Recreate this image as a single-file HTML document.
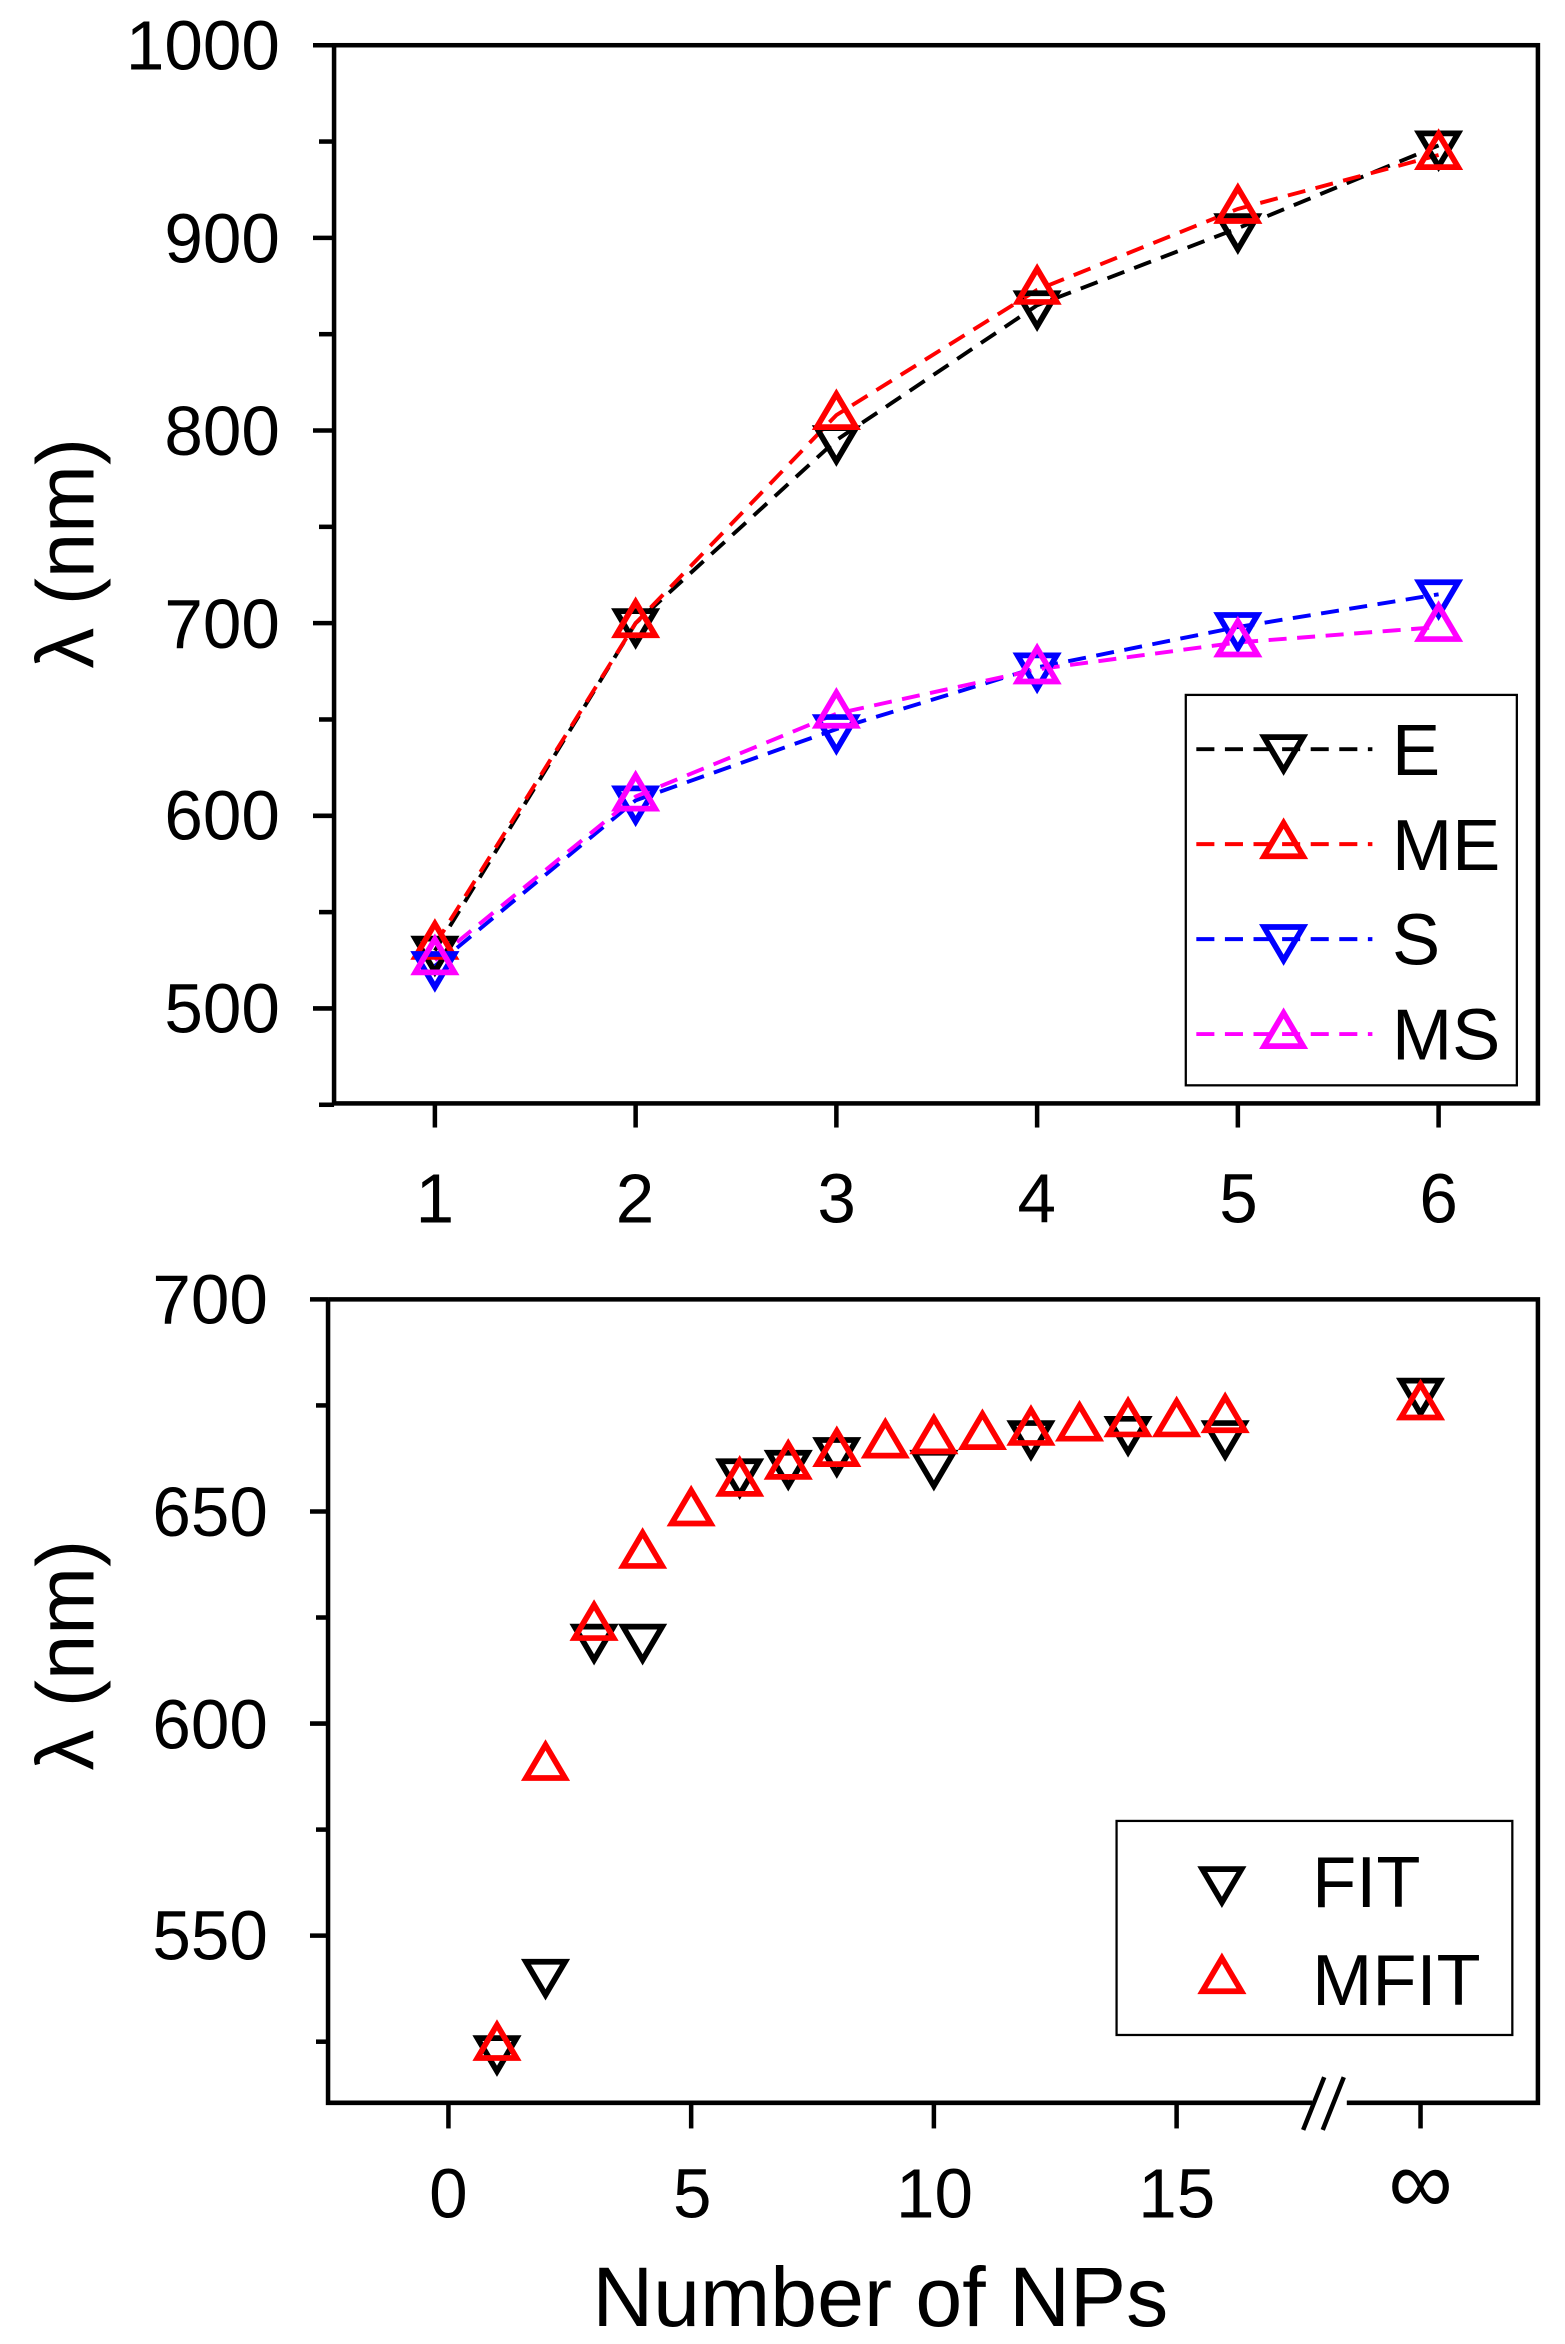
<!DOCTYPE html>
<html><head><meta charset="utf-8"><style>
html,body{margin:0;padding:0;background:#fff;}
svg{display:block;}
text{font-family:"Liberation Sans",Arial,sans-serif;fill:#000;}
</style></head><body>
<svg id="s" width="1565" height="2344" viewBox="0 0 1040 1555" preserveAspectRatio="none" xmlns="http://www.w3.org/2000/svg">
<rect width="1040" height="1555" fill="#fff"/>
<rect x="222" y="30" width="800" height="702" fill="none" stroke="#000" stroke-width="3"/>
<g id="topticks" stroke="#000" stroke-width="3"></g>
<g font-size="46" text-anchor="end">
<text x="186" y="46">1000</text><text x="186" y="174">900</text><text x="186" y="302">800</text>
<text x="186" y="430">700</text><text x="186" y="557">600</text><text x="186" y="685">500</text>
</g>
<g font-size="46" text-anchor="middle">
<text x="289" y="811">1</text><text x="422" y="811">2</text><text x="556" y="811">3</text>
<text x="689" y="811">4</text><text x="823" y="811">5</text><text x="956" y="811">6</text>
</g>
<text transform="translate(62,367) rotate(-90)" font-size="54" text-anchor="middle">λ (nm)</text>
<g id="topdata"></g>
<rect x="788" y="461" width="220" height="259" fill="#fff" stroke="#000" stroke-width="1.5"/>
<g id="leg1"></g>
<g font-size="48">
<text x="925" y="514">E</text><text x="925" y="577">ME</text><text x="925" y="640">S</text><text x="925" y="703">MS</text>
</g>
<path d="M218,862 H1022 V1395 H895 M872,1395 H218 V862" fill="none" stroke="#000" stroke-width="3"/>
<path d="M866,1413 L880,1378 M879,1413 L893,1378" stroke="#000" stroke-width="3"/>
<g id="botticks" stroke="#000" stroke-width="3"></g>
<g font-size="46" text-anchor="end">
<text x="178" y="878">700</text><text x="178" y="1019">650</text><text x="178" y="1160">600</text><text x="178" y="1300">550</text>
</g>
<g font-size="46" text-anchor="middle">
<text x="298" y="1471">0</text><text x="460" y="1471">5</text><text x="621" y="1471">10</text><text x="782" y="1471">15</text>
<text x="944" y="1468" font-size="60">∞</text>
</g>
<text transform="translate(62,1098) rotate(-90)" font-size="54" text-anchor="middle">λ (nm)</text>
<text x="585" y="1543" font-size="56" text-anchor="middle">Number of NPs</text>
<g id="botdata"></g>
<rect x="742" y="1208" width="263" height="142" fill="#fff" stroke="#000" stroke-width="1.5"/>
<g id="leg2"></g>
<g font-size="48"><text x="872" y="1265">FIT</text><text x="872" y="1330">MFIT</text></g>
</svg>
<script>
const NS="http://www.w3.org/2000/svg";
function el(p,t,a){const e=document.createElementNS(NS,t);for(const k in a)e.setAttribute(k,a[k]);document.getElementById(p).appendChild(e);return e;}
function tri(p,x,y,down,c){const pts=down?`${x-13},${y-8} ${x+13},${y-8} ${x},${y+14}`:`${x-13},${y+8} ${x+13},${y+8} ${x},${y-14}`;el(p,'polygon',{points:pts,fill:'none',stroke:c,'stroke-width':3.8,'stroke-linejoin':'miter'});}
const ty=v=>30+(1000-v)*1.278, tx=n=>289+(n-1)*133.4;
for(let v=500;v<=1000;v+=50){el('topticks','line',{x1:v%100?212:208,x2:222,y1:ty(v),y2:ty(v)});}
el('topticks','line',{x1:212,x2:222,y1:ty(450),y2:ty(450)});
for(let n=1;n<=6;n++)el('topticks','line',{x1:tx(n),x2:tx(n),y1:732,y2:748});
const S=[
 {c:'#000',d:true,v:[530,700,795,865,905,948]},
 {c:'#f00',d:false,v:[533,700,808,873,915,943]},
 {c:'#00f',d:true,v:[522,608,645,677,698,715]},
 {c:'#f0f',d:false,v:[525,610,653,676,690,698]}];
S.forEach(s=>{el('topdata','polyline',{points:s.v.map((v,i)=>tx(i+1)+','+ty(v)).join(' '),fill:'none',stroke:s.c,'stroke-width':2.6,'stroke-dasharray':'12,7'});});
S.forEach(s=>{s.v.forEach((v,i)=>tri('topdata',tx(i+1),ty(v),s.d,s.c));});
S.forEach((s,i)=>{const y=497+i*63;el('leg1','line',{x1:795,x2:912,y1:y,y2:y,stroke:s.c,'stroke-width':2.6,'stroke-dasharray':'12,7'});tri('leg1',853,y,s.d,s.c);});
const by=v=>862+(700-v)*2.814, bx=n=>n==='i'?944:298+n*32.26;
[525,550,575,600,625,650,675,700].forEach(v=>el('botticks','line',{x1:v%50?210:206,x2:218,y1:by(v),y2:by(v)}));
[0,5,10,15].forEach(n=>el('botticks','line',{x1:bx(n),x2:bx(n),y1:1395,y2:1412}));
el('botticks','line',{x1:944,x2:944,y1:1395,y2:1412});
const FIT=[[1,523],[2,541],[3,620],[4,620],[6,659],[7,661],[8,664],[10,661],[12,668],[14,669],[16,668],['i',678]];
const MF=[[1,524],[2,590],[3,623],[4,640],[5,650],[6,657],[7,661],[8,664],[9,666],[10,667],[11,668],[12,669],[13,670],[14,671],[15,671],[16,672],['i',675]];
FIT.forEach(p=>tri('botdata',bx(p[0]),by(p[1]),true,'#000'));
MF.forEach(p=>tri('botdata',bx(p[0]),by(p[1]),false,'#f00'));
tri('leg2',812,1248,true,'#000');tri('leg2',812,1313,false,'#f00');
</script>
</body></html>
